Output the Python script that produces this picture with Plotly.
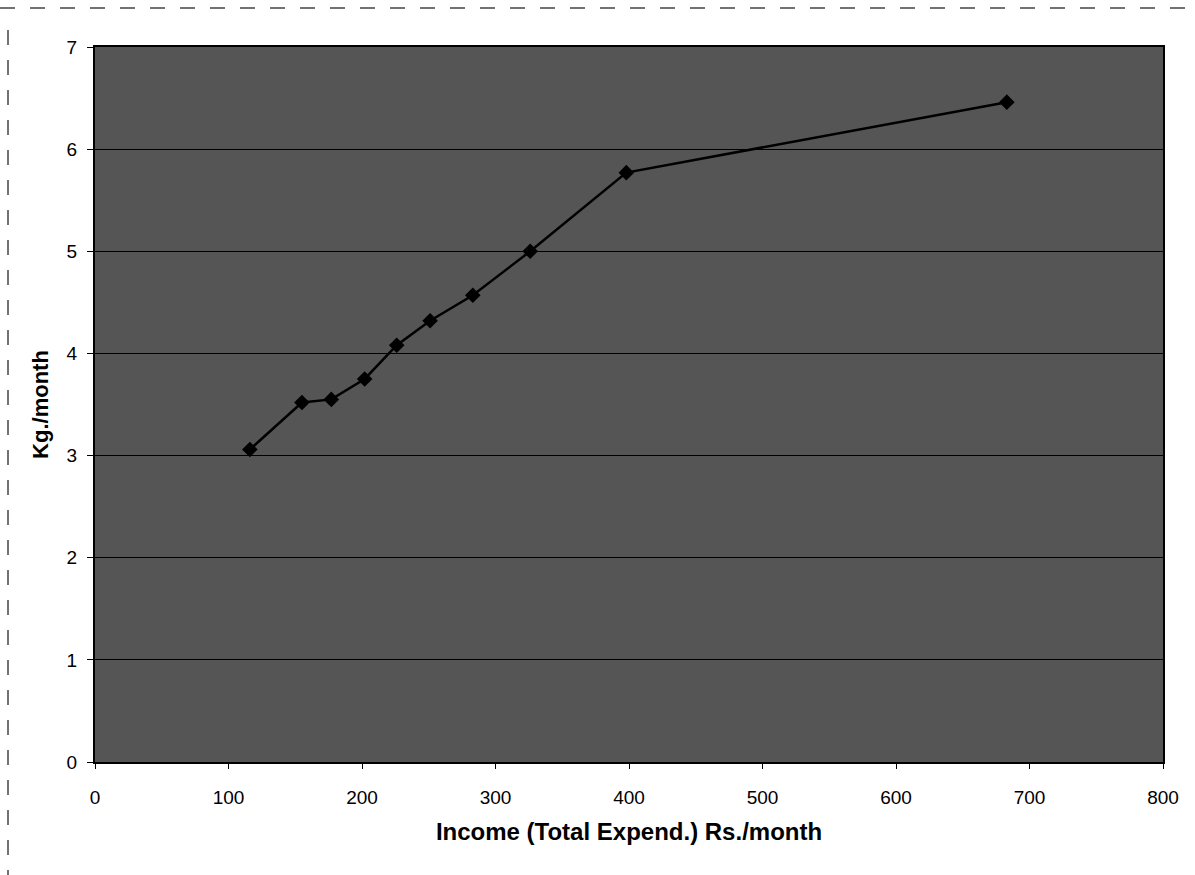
import plotly.graph_objects as go

# Monthly income (total expenditure, Rs.) vs consumption (kg per month)
income = [116, 155, 177, 202, 226, 251, 283, 326, 398, 683]
kg_per_month = [3.06, 3.52, 3.55, 3.75, 4.08, 4.32, 4.57, 5.0, 5.77, 6.46]

x_ticks = [0, 100, 200, 300, 400, 500, 600, 700, 800]
y_ticks = [0, 1, 2, 3, 4, 5, 6, 7]

W, H = 1195, 875
L, R, T, B = 95, 32, 47, 113

fig = go.Figure()
fig.add_trace(go.Scatter(
    x=income, y=kg_per_month, mode="lines+markers",
    line=dict(color="black", width=2.5),
    marker=dict(symbol="diamond", size=12, color="black"),
    showlegend=False,
))

font = "Liberation Sans, Arial, sans-serif"
fig.update_layout(
    width=W, height=H,
    margin=dict(l=L, r=R, t=T, b=B),
    paper_bgcolor="white",
    plot_bgcolor="#555555",
    font=dict(family=font, color="black", size=19),
    xaxis=dict(
        range=[0, 800], tickvals=x_ticks, ticks="outside", ticklen=5,
        tickcolor="black", showgrid=False, zeroline=False,
        showline=True, linecolor="black", linewidth=2, mirror=True,
        tickfont=dict(size=19), ticklabelstandoff=12,
        title=dict(text="<b>Income (Total Expend.) Rs./month</b>",
                   font=dict(size=24), standoff=16),
    ),
    yaxis=dict(
        range=[0, 7], tickvals=y_ticks, ticks="outside", ticklen=6,
        tickcolor="black", showgrid=True, gridcolor="black", gridwidth=1,
        zeroline=False, showline=True, linecolor="black", linewidth=2,
        mirror=True, tickfont=dict(size=19), ticklabelstandoff=6,
        title=dict(text="<b>Kg./month</b>", font=dict(size=22), standoff=12),
    ),
)

# dashed frame around the figure
pw, ph = W - L - R, H - T - B
top_y = (H - B - 8) / ph
left_x = (8 - L) / pw
fig.add_shape(type="line", xref="paper", yref="paper",
              x0=(0 - L) / pw, x1=(W - L) / pw, y0=top_y, y1=top_y,
              line=dict(color="#444", width=1.5, dash="longdash"))
fig.add_shape(type="line", xref="paper", yref="paper",
              x0=left_x, x1=left_x, y0=(H - B - 30) / ph, y1=(0 - B) / ph,
              line=dict(color="#444", width=1.5, dash="longdash"))

fig.write_html("out.html")
